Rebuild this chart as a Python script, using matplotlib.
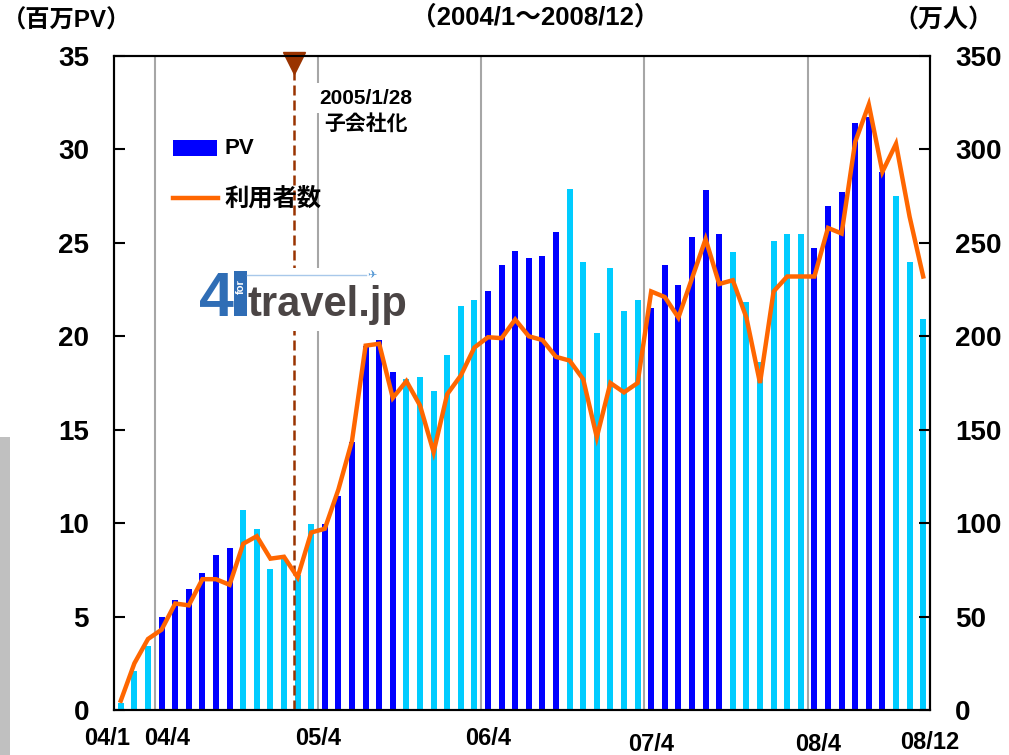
import numpy as np
import matplotlib
matplotlib.use("Agg")
import matplotlib.pyplot as plt
from matplotlib.patches import Rectangle
from matplotlib.lines import Line2D

plt.rcParams['font.family'] = ['Liberation Sans', 'Noto Sans CJK JP', 'DejaVu Sans']
plt.rcParams['font.weight'] = 'bold'

# monthly PV (millions), 2004/1 - 2008/12
pv = [0.4, 2.1, 3.4, 5.0, 5.9, 6.45, 7.35, 8.3, 8.65, 10.7, 9.7, 7.55,
      8.1, 7.2, 9.95, 9.95, 11.45, 14.35, 19.5, 19.8, 18.1, 17.7, 17.8, 17.05,
      19.0, 21.6, 21.95, 22.45, 23.8, 24.55, 24.2, 24.3, 25.6, 27.9, 23.95, 20.2,
      23.65, 21.35, 21.95, 21.5, 23.8, 22.75, 25.3, 27.85, 25.5, 24.5, 21.85, 18.65,
      25.1, 25.5, 25.45, 24.7, 26.95, 27.7, 31.4, 31.75, 28.8, 27.5, 24.0, 20.95]

# monthly users (10k people)
users = [5, 25, 38, 43, 57, 56, 70, 70, 67, 89, 93, 81,
         82, 71, 95, 97, 118, 144, 195, 196, 167, 176, 163, 138,
         169, 179, 194, 199.5, 199, 209, 200, 198, 189, 187, 177, 146,
         175, 170, 175, 224, 221, 210, 231, 252, 228, 230, 210, 175,
         224, 232, 232, 232, 258, 255, 304, 324, 288, 303, 264, 232]

xlabels = ["04/1", "04/4", "05/4", "06/4", "07/4", "08/4", "08/12"]
xlabel_pos = [-1.0, 3.4, 14.5, 27.0, 39.0, 51.3, 59.5]
xlabel_y = [-0.044, -0.044, -0.044, -0.044, -0.052, -0.053, -0.049]

fiscal_breaks = [2.5, 14.5, 26.5, 38.5, 50.5]
event_x = 12.74  # 2005/1/28

W, H = 1009, 755


def fx(x):
    return x / W


def fy(y):
    return 1 - y / H


fig = plt.figure(figsize=(W / 100, H / 100), dpi=100)
ax = fig.add_axes([fx(114), fy(710), 816 / W, 654 / H])
ax2 = ax.twinx()

months = np.arange(len(pv))
colors = ['#0000FF' if 3 <= m % 12 <= 8 else '#00CCFF' for m in months]

for b in fiscal_breaks:
    ax.axvline(b, color='#A6A6A6', lw=1.5, zorder=0.5)

ax.bar(months, pv, width=0.44, color=colors, zorder=2)

ax.plot([event_x, event_x], [0, 34.3], color='#993300', lw=1.8,
        dashes=(4, 2), zorder=3, clip_on=False)
ax.plot([event_x], [34.62], marker='v', ms=16.5, color='#993300',
        clip_on=False, zorder=6)

ax2.plot(months, users, color='#FF6600', lw=3.2, solid_joinstyle='miter', zorder=5)

ax.set_xlim(-0.5, 59.5)
ax.set_ylim(0, 35)
ax2.set_ylim(0, 350)
ax.set_yticks(np.arange(0, 36, 5))
ax2.set_yticks(np.arange(0, 351, 50))
ax.set_xticks([])

for a in (ax, ax2):
    for s in a.spines.values():
        s.set_linewidth(1.5)
        s.set_color('black')
ax.tick_params(axis='y', direction='in', length=8, width=1.5, pad=18, labelsize=20)
ax2.tick_params(axis='y', direction='in', length=8, width=1.5, pad=18, labelsize=20)

for lab, xp, yp in zip(xlabels, xlabel_pos, xlabel_y):
    ax.text(xp, yp, lab, transform=ax.get_xaxis_transform(), ha='center',
            va='center', fontsize=17, fontweight='bold')

# headings
fig.text(fx(66), fy(21), "（百万PV）", fontsize=17.5, fontweight='bold', va='center', ha='center')
fig.text(fx(943), fy(20), "（万人）", fontsize=18, fontweight='bold', va='center', ha='center')
fig.text(fx(535), fy(17), "（2004/1～2008/12）", fontsize=18.5, fontweight='bold',
         va='center', ha='center')

# event note
fig.text(fx(366), fy(98), "2005/1/28", fontsize=15, fontweight='bold', ha='center',
         va='center', zorder=4,
         bbox=dict(facecolor='white', edgecolor='none', pad=4))
fig.text(fx(366), fy(124), "子会社化", fontsize=15, fontweight='bold', ha='center',
         va='center', zorder=4,
         bbox=dict(facecolor='white', edgecolor='none', pad=4))

# legend
fig.add_artist(Rectangle((fx(173), fy(156)), 44 / W, 16 / H, transform=fig.transFigure,
                         facecolor='#0000FF', edgecolor='none', zorder=4))
fig.text(fx(224), fy(148), "PV", fontsize=16, fontweight='bold', va='center', zorder=4)
fig.add_artist(Line2D([fx(173), fx(218)], [fy(198), fy(198)], transform=fig.transFigure,
                      color='#FF6600', lw=3.2, zorder=4))
fig.text(fx(224), fy(199), "利用者数", fontsize=17.5, fontweight='bold', va='center', zorder=4)

# site logo
fig.add_artist(Rectangle((fx(199), fy(331)), 212 / W, 63 / H, transform=fig.transFigure,
                         facecolor='white', edgecolor='none', zorder=3))
fig.text(fx(199), fy(316), "4", fontsize=45, fontweight='bold', color='#2F6DB5',
         va='baseline', ha='left', zorder=4)
fig.add_artist(Rectangle((fx(234), fy(316)), 13 / W, 45 / H, transform=fig.transFigure,
                         facecolor='#2F6DB5', edgecolor='none', zorder=4))
fig.text(fx(241), fy(287), "for", fontsize=8, fontweight='bold', color='white',
         rotation=90, va='center', ha='center', zorder=5)
fig.add_artist(Line2D([fx(247), fx(366)], [fy(275), fy(275)], transform=fig.transFigure,
                      color='#A8C8EA', lw=1, zorder=4))
fig.text(fx(372), fy(275), "✈", fontsize=8, color='#5B9BD5', va='center', ha='center',
         family='DejaVu Sans', zorder=4)
fig.text(fx(247), fy(316), "travel.jp", fontsize=30, fontweight='bold', color='#4B4545',
         va='baseline', ha='left', zorder=4)

# grey strip at the left edge
fig.add_artist(Rectangle((0, 0), 10 / W, (H - 437) / H, transform=fig.transFigure,
                         facecolor='#C0C0C0', edgecolor='none', zorder=1))

fig.savefig("out.png", dpi=100)
